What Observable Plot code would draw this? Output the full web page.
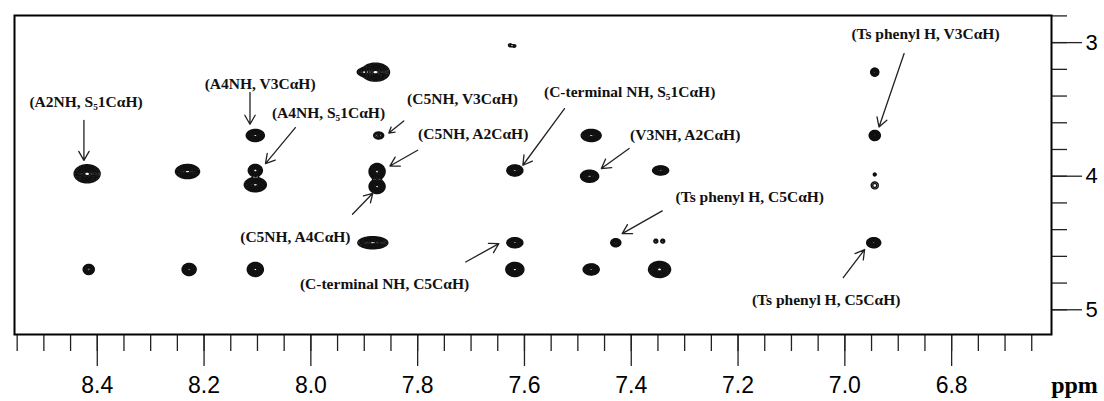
<!DOCTYPE html>
<html>
<head>
<meta charset="utf-8">
<script src="https://cdn.jsdelivr.net/npm/d3@7"></script>
<script src="https://cdn.jsdelivr.net/npm/@observablehq/plot@0.6"></script>
<style>
  html, body { margin: 0; padding: 0; background: #fff; }
  #chart svg { display: block; }
</style>
</head>
<body>
<div id="chart"></div>
<script>
// Cross peaks of the 2D spectrum: F2 shift (ppm), F1 shift (ppm),
// outer-contour half-widths (ppm) and relative intensity.
const peakF2 = [8.419, 8.231, 8.104, 8.104, 8.104, 7.879, 7.903, 7.873, 7.876, 7.876,
                7.627, 7.619, 7.618, 7.475, 7.478, 7.345, 6.944, 6.944, 6.944, 6.944,
                6.946, 7.618, 7.618, 7.475, 7.347, 7.429, 7.354, 7.341, 7.884, 8.416,
                8.228, 8.104];
const peakF1 = [3.982, 3.965, 3.695, 3.957, 4.064, 3.221, 3.220, 3.695, 3.965, 4.077,
                3.020, 3.025, 3.957, 3.695, 4.000, 3.957, 3.221, 3.695, 3.987, 4.069,
                4.498, 4.498, 4.698, 4.698, 4.698, 4.498, 4.486, 4.486, 4.498, 4.698,
                4.698, 4.698];
const peakWidthF2 = [0.0243, 0.0225, 0.0169, 0.0131, 0.0206, 0.0262, 0.0094, 0.0094, 0.0150, 0.0150,
                     0.0030, 0.0030, 0.0150, 0.0187, 0.0169, 0.0150, 0.0075, 0.0103, 0.0028, 0.0066,
                     0.0131, 0.0150, 0.0169, 0.0150, 0.0206, 0.0094, 0.0037, 0.0037, 0.0281, 0.0103,
                     0.0131, 0.0150];
const peakWidthF1 = [0.0674, 0.0524, 0.0449, 0.0449, 0.0524, 0.0674, 0.0225, 0.0262, 0.0599, 0.0524,
                     0.0110, 0.0090, 0.0412, 0.0449, 0.0449, 0.0337, 0.0300, 0.0374, 0.0112, 0.0262,
                     0.0374, 0.0374, 0.0524, 0.0412, 0.0599, 0.0300, 0.0150, 0.0150, 0.0449, 0.0374,
                     0.0449, 0.0524];
const peakIntensity = [1, 1, 1, 0.8, 1, 1, 0.3, 0.25, 1, 1,
                       0.13, 0.13, 0.9, 1, 1, 0.9, 0.7, 1, 0.15, 0.15,
                       1, 0.9, 1, 1, 1, 0.5, 0.15, 0.15, 1, 0.7,
                       1, 1];

// Contour levels (relative intensity)
const contourLevels = [0.08, 0.12, 0.17, 0.23, 0.3, 0.38, 0.47, 0.57, 0.68, 0.8, 0.9];

// Assignment labels and their arrows (ppm coordinates)
const labelText = [
  "(A2NH, S₅1CαH)", "(A4NH, V3CαH)", "(A4NH, S₅1CαH)", "(C5NH, V3CαH)",
  "(C5NH, A2CαH)", "(C-terminal NH, S₅1CαH)", "(V3NH, A2CαH)", "(Ts phenyl H, V3CαH)",
  "(Ts phenyl H, C5CαH)", "(C5NH, A4CαH)", "(C-terminal NH, C5CαH)", "(Ts phenyl H, C5CαH)"
];
const labelF2 = [8.421, 8.095, 7.967, 7.716, 7.696, 7.403, 7.299, 6.849, 7.178, 8.029, 7.862, 7.035];
const labelF1 = [3.445, 3.307, 3.527, 3.419, 3.681, 3.370, 3.694, 2.933, 4.158, 4.455, 4.804, 4.929];
const arrowF2Start = [8.425, 8.114, 8.029, 7.826, 7.800, 7.525, 7.404, 6.889, 7.342, 7.922, 7.710, 7.003];
const arrowF1Start = [3.582, 3.372, 3.636, 3.587, 3.806, 3.494, 3.793, 3.082, 4.260, 4.285, 4.642, 4.759];
const arrowF2End   = [8.425, 8.114, 8.085, 7.854, 7.852, 7.603, 7.456, 6.936, 7.417, 7.884, 7.648, 6.963];
const arrowF1End   = [3.882, 3.611, 3.906, 3.677, 3.924, 3.918, 3.943, 3.632, 4.430, 4.128, 4.505, 4.549];

// Axis ticks
const f2MajorTicks = [8.4, 8.2, 8.0, 7.8, 7.6, 7.4, 7.2, 7.0, 6.8];
const f2MinorTicks = d3.range(133, 172).map(i => i / 20);
const f1MajorTicks = [3, 4, 5];
const f1MinorTicks = d3.range(14, 26).map(i => i / 5);

const f2Domain = [8.555, 6.613];
const f1Domain = [2.797, 5.185];

// Gaussian line shape parameters, scaled so that the lowest contour
// level traces the measured half-width of each peak
const lowest = contourLevels[0];
const peaks = peakF2.map((x0, i) => {
  const a = peakIntensity[i];
  const k = Math.sqrt(2 * Math.log(a / lowest));
  return {x0, y0: peakF1[i], sx: peakWidthF2[i] / k, sy: peakWidthF1[i] / k, a};
});

function spectrum(x, y) {
  let v = 0;
  for (const p of peaks) {
    const u = (x - p.x0) / p.sx;
    const w = (y - p.y0) / p.sy;
    const d = u * u + w * w;
    if (d < 40) v += p.a * Math.exp(-0.5 * d);
  }
  return v;
}

const idx = d3.range(labelText.length);

const chart = Plot.plot({
  width: 1104,
  height: 401,
  marginLeft: 14,
  marginRight: 53,
  marginTop: 15,
  marginBottom: 67,
  style: {background: "#fff", color: "#000", fontFamily: "'Liberation Sans', Arial, sans-serif"},
  x: {domain: f2Domain},
  y: {domain: f1Domain, reverse: true},
  marks: [
    Plot.contour({
      x1: f2Domain[0], x2: f2Domain[1], y1: f1Domain[0], y2: f1Domain[1],
      value: spectrum,
      thresholds: contourLevels,
      pixelSize: 1,
      fill: "none",
      stroke: "#111",
      strokeWidth: 1.4
    }),
    Plot.arrow(idx, {
      x1: i => arrowF2Start[i], y1: i => arrowF1Start[i],
      x2: i => arrowF2End[i], y2: i => arrowF1End[i],
      stroke: "#222", strokeWidth: 1.3, headLength: 12, headAngle: 60
    }),
    Plot.text(idx, {
      x: i => labelF2[i], y: i => labelF1[i], text: i => labelText[i],
      fontFamily: "'Liberation Serif', 'Times New Roman', serif",
      fontWeight: "bold", fontSize: 15.5, fill: "#111",
      textAnchor: "middle", lineAnchor: "middle"
    }),
    Plot.axisX({ticks: f2MinorTicks, tickSize: 17, tickFormat: () => "", stroke: "#222", strokeWidth: 1.3, label: null}),
    Plot.axisX({ticks: f2MajorTicks, tickSize: 32, tickPadding: 10, tickFormat: d => d.toFixed(1),
                fontSize: 23, stroke: "#222", strokeWidth: 1.3, label: null}),
    Plot.axisY({anchor: "right", ticks: f1MinorTicks, tickSize: 15, tickFormat: () => "", stroke: "#222", strokeWidth: 1.3, label: null}),
    Plot.axisY({anchor: "right", ticks: f1MajorTicks, tickSize: 30, tickPadding: 4, tickFormat: d => String(d),
                fontSize: 22, stroke: "#222", strokeWidth: 1.3, label: null}),
    Plot.frame({stroke: "#000", strokeWidth: 2}),
    Plot.text(["ppm"], {
      frameAnchor: "bottom-right", dx: 23, dy: 51,
      fontFamily: "'Liberation Serif', 'Times New Roman', serif",
      fontWeight: "bold", fontSize: 24, textAnchor: "middle", lineAnchor: "middle"
    })
  ]
});

document.getElementById("chart").append(chart);
</script>
</body>
</html>
